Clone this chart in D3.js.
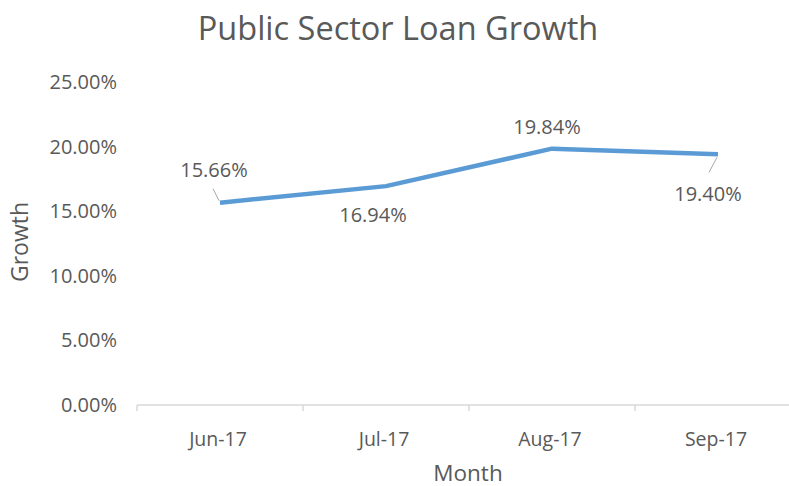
<!DOCTYPE html>
<html>
<head>
<meta charset="utf-8">
<script src="https://cdn.jsdelivr.net/npm/d3@7"></script>
<style>
  html, body { margin: 0; padding: 0; background: #fff; }
  svg { display: block; }
  text { font-family: "Open Sans", "Lato", sans-serif; fill: #595959; }
</style>
</head>
<body>
<svg id="chart" width="789" height="486"></svg>
<script>
// Monthly public sector loan growth
const months = ["Jun-17", "Jul-17", "Aug-17", "Sep-17"];
const growth = [0.1566, 0.1694, 0.1984, 0.1940];
const yTicks = [0, 0.05, 0.10, 0.15, 0.20, 0.25];

const svg = d3.select("#chart");

const x = d3.scaleBand().domain(months).range([137, 801]);
const y = d3.scaleLinear().domain([0, 0.25]).range([405, 82]);
const fmt = d3.format(".2%");
const cx = m => x(m) + x.bandwidth() / 2;

// Title
svg.append("text")
  .attr("x", 398).attr("y", 40)
  .attr("text-anchor", "middle")
  .style("font-size", "32.5px")
  .text("Public Sector Loan Growth");

// Y axis labels (no axis line, no gridlines)
const yAxis = svg.append("g").attr("transform", "translate(117,0)")
  .call(d3.axisLeft(y).tickValues(yTicks).tickFormat(fmt).tickSize(0).tickPadding(0));
yAxis.select(".domain").remove();
yAxis.selectAll("text")
  .style("font-size", "20px")
  .style("font-family", "'Open Sans', sans-serif")
  .attr("fill", "#595959");

// X axis with boundary ticks between categories
const xAxisG = svg.append("g").attr("transform", "translate(0,405)");
xAxisG.append("line")
  .attr("x1", x.range()[0]).attr("x2", x.range()[1])
  .attr("stroke", "#d9d9d9").attr("stroke-width", 1.5);
xAxisG.selectAll("line.tick")
  .data(months.concat(["end"]))
  .join("line")
  .attr("class", "tick")
  .attr("x1", (d, i) => x.range()[0] + i * x.bandwidth())
  .attr("x2", (d, i) => x.range()[0] + i * x.bandwidth())
  .attr("y1", 0).attr("y2", 6)
  .attr("stroke", "#d9d9d9").attr("stroke-width", 1.5);
xAxisG.selectAll("text.cat")
  .data(months)
  .join("text")
  .attr("class", "cat")
  .attr("x", d => cx(d) - 2)
  .attr("y", 41)
  .attr("text-anchor", "middle")
  .style("font-size", "19.5px")
  .text(d => d);

// Axis titles
svg.append("text")
  .attr("x", 468).attr("y", 481)
  .attr("text-anchor", "middle")
  .style("font-size", "22.5px")
  .text("Month");
svg.append("text")
  .attr("transform", "translate(28,242) rotate(-90)")
  .attr("text-anchor", "middle")
  .style("font-size", "23px")
  .text("Growth");

// Series line
const pts = months.map((m, i) => ({ m, v: growth[i] }));
svg.append("path")
  .datum(pts)
  .attr("fill", "none")
  .attr("stroke", "#5b9bd5")
  .attr("stroke-width", 4.5)
  .attr("stroke-linejoin", "round")
  .attr("d", d3.line().x(d => cx(d.m)).y(d => y(d.v)));

// Data labels: offsets from each point, with leader lines where the label sits apart
const labelPos = [
  { dx: -6, dy: -33, leader: [[-7, -14], [-1, -2]] },
  { dx: -13, dy: 28 },
  { dx: -5, dy: -22 },
  { dx: -10, dy: 39, leader: [[-1, 3], [-9, 18]] }
];
pts.forEach((p, i) => {
  const px = cx(p.m), py = y(p.v), L = labelPos[i];
  if (L.leader) {
    svg.append("line")
      .attr("x1", px + L.leader[0][0]).attr("y1", py + L.leader[0][1])
      .attr("x2", px + L.leader[1][0]).attr("y2", py + L.leader[1][1])
      .attr("stroke", "#a6a6a6").attr("stroke-width", 1);
  }
  svg.append("text")
    .attr("x", px + L.dx).attr("y", py + L.dy)
    .attr("text-anchor", "middle")
    .attr("dominant-baseline", "central")
    .style("font-size", "20px")
    .text(fmt(p.v));
});
</script>
</body>
</html>
